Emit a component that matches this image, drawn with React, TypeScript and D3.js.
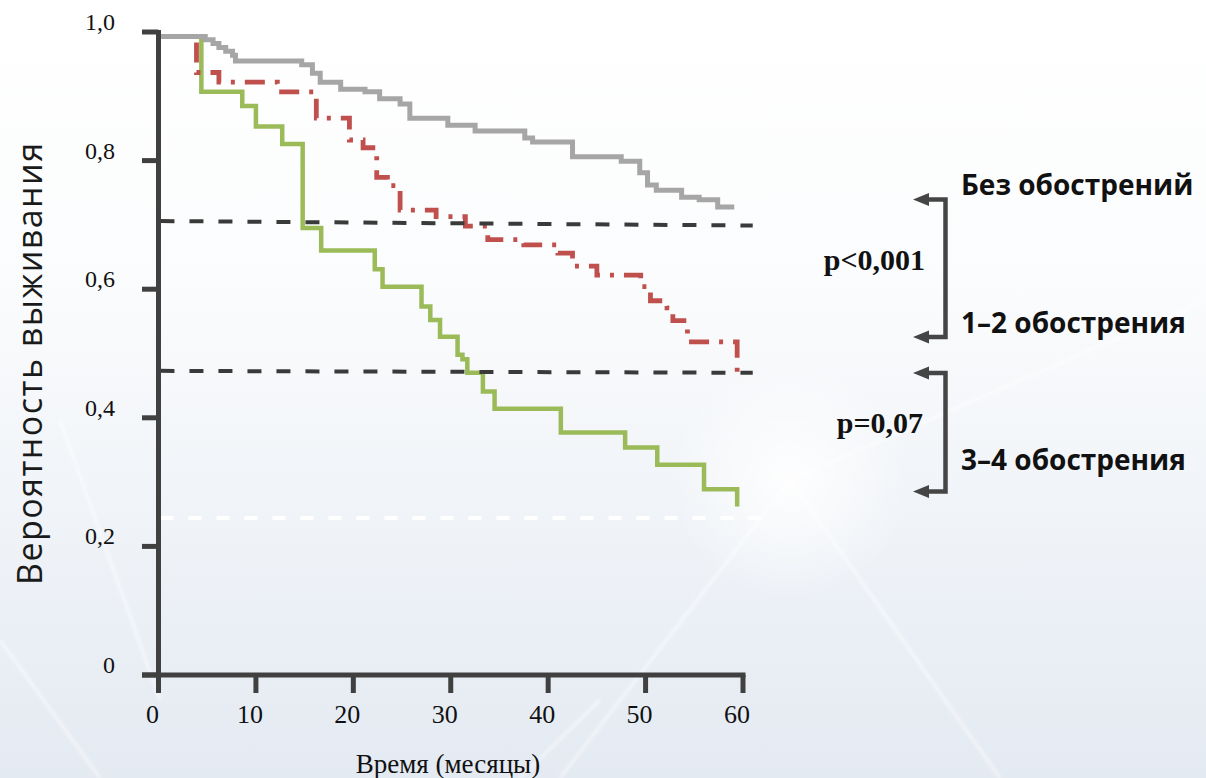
import React from "react";
import * as d3 from "d3";

// ---------- data ----------
const grayTimes = [0, 4.8, 5.6, 6.2, 6.9, 7.6, 7.9, 14.7, 15.8, 16.6, 18.7, 21.2, 22.7, 24.8, 25.8, 29.7, 32.5, 37.6, 38.4, 42.5, 47.5, 49.4, 50.2, 51.1, 53.7, 55.5, 57.4];
const graySurv = [0.993, 0.988, 0.982, 0.976, 0.97, 0.964, 0.955, 0.949, 0.936, 0.922, 0.911, 0.907, 0.896, 0.888, 0.866, 0.855, 0.846, 0.835, 0.829, 0.806, 0.799, 0.781, 0.762, 0.754, 0.743, 0.739, 0.728];
const grayEnd = 59.1;

const redTimes = [0, 3.9, 6.2, 12.2, 16.2, 19.6, 21.0, 22.4, 23.5, 24.8, 28.5, 31.5, 33.8, 37.5, 41.0, 42.5, 45.0, 49.5, 50.5, 52.2, 52.8, 54.3, 59.4];
const redSurv = [0.993, 0.937, 0.922, 0.907, 0.866, 0.832, 0.82, 0.774, 0.761, 0.723, 0.713, 0.698, 0.677, 0.669, 0.656, 0.636, 0.622, 0.604, 0.582, 0.571, 0.551, 0.518, 0.463];
const redEnd = 59.4;

const greenTimes = [0, 4.4, 8.6, 10.0, 12.7, 14.8, 16.7, 22.2, 23.0, 27.0, 27.9, 28.9, 30.7, 31.2, 31.7, 33.3, 34.5, 41.3, 47.9, 51.2, 56.0, 59.4];
const greenSurv = [0.993, 0.907, 0.885, 0.853, 0.826, 0.695, 0.66, 0.631, 0.604, 0.573, 0.552, 0.526, 0.498, 0.491, 0.47, 0.441, 0.414, 0.377, 0.354, 0.327, 0.289, 0.262];
const greenEnd = 59.4;

const xTicks = [0, 10, 20, 30, 40, 50, 60];
const yTicks = [0, 0.2, 0.4, 0.6, 0.8, 1.0];
const yTickLabels = ["0", "0,2", "0,4", "0,6", "0,8", "1,0"];

// median-like reference lines: [start value, end value]
const refDark = [
  [0.706, 0.699],
  [0.473, 0.47],
];
const refLight = [[0.244, 0.244]];
const refStart = 0.2;
const refEnd = 61.0;

const groupLabels = ["Без обострений", "1–2 обострения", "3–4 обострения"];
const pLabels = ["p<0,001", "p=0,07"];

const xTitle = "Время (месяцы)";
const yTitle = "Вероятность выживания";

// ---------- layout ----------
const W = 1206;
const H = 778;
const x = d3.scaleLinear().domain([0, 60]).range([158.5, 743]);
const y = d3.scaleLinear().domain([0, 1]).range([675, 32]);

const AXIS = "#404040";
const SERIF = "'Liberation Serif', 'Times New Roman', serif";
const SANS = "'Open Sans', 'Noto Sans', sans-serif";

function stepPath(times: number[], surv: number[], end: number) {
  const pts: [number, number][] = times.map((t, i) => [t, surv[i]]);
  pts.push([end, surv[surv.length - 1]]);
  const line = d3
    .line<[number, number]>()
    .x((d) => x(d[0]))
    .y((d) => y(d[1]))
    .curve(d3.curveStepAfter);
  return line(pts) || "";
}

function Bracket({ top, bottom }: { top: number; bottom: number }) {
  const vx = 945.5;
  const armL = 927;
  const tip = 913;
  const hh = 6.5;
  return (
    <g>
      <path
        d={`M${armL},${top} H${vx} V${bottom} H${armL}`}
        fill="none"
        stroke="#454545"
        strokeWidth={4.5}
        strokeLinejoin="miter"
      />
      <path d={`M${tip},${top} L${armL + 2},${top - hh} L${armL + 2},${top + hh} Z`} fill="#454545" />
      <path d={`M${tip},${bottom} L${armL + 2},${bottom - hh} L${armL + 2},${bottom + hh} Z`} fill="#454545" />
    </g>
  );
}

export default function App() {
  const rays = [
    [790, 480, 560, 778],
    [790, 480, 1206, 300],
    [790, 480, 1000, 778],
    [600, 700, 520, 778],
    [100, 778, 0, 640],
    [160, 700, 60, 420],
  ];
  return (
    <div style={{ position: "absolute", left: 0, top: 0, width: W, height: H, overflow: "hidden" }}>
      <svg width={W} height={H} viewBox={`0 0 ${W} ${H}`} style={{ display: "block" }}>
        <defs>
          <linearGradient id="bg" x1="0" y1="0" x2="0" y2="1">
            <stop offset="0" stopColor="#ffffff" />
            <stop offset="0.35" stopColor="#fbfcfd" />
            <stop offset="1" stopColor="#e4eaf2" />
          </linearGradient>
          <radialGradient id="glow" cx="790" cy="480" r="120" gradientUnits="userSpaceOnUse">
            <stop offset="0" stopColor="#ffffff" stopOpacity="0.9" />
            <stop offset="1" stopColor="#ffffff" stopOpacity="0" />
          </radialGradient>
          <filter id="soft" x="-10%" y="-10%" width="120%" height="120%">
            <feGaussianBlur stdDeviation="1.5" />
          </filter>
        </defs>
        <rect x={0} y={0} width={W} height={H} fill="url(#bg)" />
        <rect x={0} y={0} width={W} height={H} fill="url(#glow)" />
        <g filter="url(#soft)">
          {rays.map((r, i) => (
            <line key={i} x1={r[0]} y1={r[1]} x2={r[2]} y2={r[3]} stroke="#ffffff" strokeOpacity={0.5} strokeWidth={3} />
          ))}
        </g>

        {/* curves */}
        <path d={stepPath(greenTimes, greenSurv, greenEnd)} fill="none" stroke="#9bbb59" strokeWidth={4.5} />
        <path
          d={stepPath(redTimes, redSurv, redEnd)}
          fill="none"
          stroke="#c0504d"
          strokeWidth={4.8}
          strokeDasharray="20 10 4 10"
        />
        <path d={stepPath(grayTimes, graySurv, grayEnd)} fill="none" stroke="#a6a6a6" strokeWidth={5} />

        {/* reference lines */}
        {refDark.map((r, i) => (
          <line
            key={"d" + i}
            x1={x(refStart)}
            x2={x(refEnd)}
            y1={y(r[0])}
            y2={y(r[1])}
            stroke="#3a3a3a"
            strokeWidth={4}
            strokeDasharray="14 15"
          />
        ))}
        {refLight.map((r, i) => (
          <line
            key={"l" + i}
            x1={x(refStart)}
            x2={x(61.8)}
            y1={y(r[0])}
            y2={y(r[1])}
            stroke="#ffffff"
            strokeWidth={4}
            strokeDasharray="13 15"
          />
        ))}

        {/* axes */}
        <line x1={x(0)} x2={x(0)} y1={30} y2={693} stroke={AXIS} strokeWidth={5} />
        <line x1={142} x2={x(60) + 2.5} y1={y(0)} y2={y(0)} stroke={AXIS} strokeWidth={5} />
        {yTicks.map((t, i) => (
          <g key={"yt" + i}>
            <line x1={142} x2={x(0)} y1={y(t)} y2={y(t)} stroke={AXIS} strokeWidth={5} />
            <text
              x={115}
              y={y(t) - 2}
              textAnchor="end"
              fontFamily={SERIF}
              fontSize={24}
              fill="#111"
            >
              {yTickLabels[i]}
            </text>
          </g>
        ))}
        {xTicks.map((t) => (
          <g key={"xt" + t}>
            <line x1={x(t)} x2={x(t)} y1={y(0)} y2={693} stroke={AXIS} strokeWidth={5} />
            <text x={x(t) - 6} y={723} textAnchor="middle" fontFamily={SERIF} fontSize={26} fill="#111">
              {t}
            </text>
          </g>
        ))}
        <text x={448} y={773} textAnchor="middle" fontFamily={SERIF} fontSize={27} fill="#111">
          {xTitle}
        </text>
        <text
          transform="translate(42,364) rotate(-90)"
          textAnchor="middle"
          fontFamily={SANS}
          fontSize={34}
          textLength={442}
          lengthAdjust="spacing"
          fill="#1a1a1a"
        >
          {yTitle}
        </text>

        {/* legend */}
        <Bracket top={199.5} bottom={337} />
        <Bracket top={373} bottom={491.5} />
        <text x={961} y={195} fontFamily={SANS} fontWeight={700} fontSize={28} fill="#111">
          {groupLabels[0]}
        </text>
        <text x={961} y={333} fontFamily={SANS} fontWeight={700} fontSize={28} fill="#111">
          {groupLabels[1]}
        </text>
        <text x={961} y={470} fontFamily={SANS} fontWeight={700} fontSize={28} fill="#111">
          {groupLabels[2]}
        </text>
        <text x={925} y={270} textAnchor="end" fontFamily={SERIF} fontWeight={700} fontSize={30} fill="#111">
          {pLabels[0]}
        </text>
        <text x={923} y={433} textAnchor="end" fontFamily={SERIF} fontWeight={700} fontSize={30} fill="#111">
          {pLabels[1]}
        </text>
      </svg>
    </div>
  );
}
